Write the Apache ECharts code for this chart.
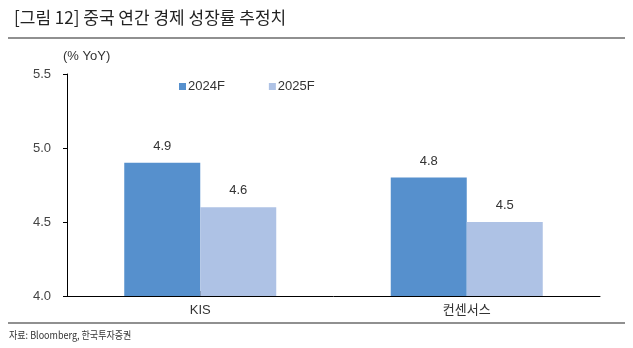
<!DOCTYPE html>
<html><head><meta charset="utf-8">
<script src="https://cdn.jsdelivr.net/npm/echarts@6/dist/echarts.min.js"></script>
<style>html,body{margin:0;padding:0;background:#fff}#c{width:633px;height:348px}</style>
</head><body><div id="c"></div>
<script>
const categories = ['KIS', '컨센서스'];
const s2024 = [4.9, 4.8];
const s2025 = [4.6, 4.5];
const seriesNames = ['2024F', '2025F'];
const yTicks = [4.0, 4.5, 5.0, 5.5];

const font = 'Arial, "Liberation Sans", "Noto Sans CJK KR", sans-serif';
const chart = echarts.init(document.getElementById('c'));
chart.setOption({
  animation: false,
  textStyle: { fontFamily: font },
  graphic: [
    { type: 'text', left: 14, top: 9, style: { text: '[그림 12] 중국 연간 경제 성장률 추정치', font: '17px "Noto Sans CJK KR", sans-serif', fill: '#222' } },
    { type: 'line', shape: { x1: 8, y1: 38, x2: 625, y2: 38 }, style: { stroke: '#222', lineWidth: 1.2 } },
    { type: 'line', shape: { x1: 8, y1: 323, x2: 625, y2: 323 }, style: { stroke: '#222', lineWidth: 1.2 } },
    { type: 'text', x: 9, y: 330, scaleX: 0.86, style: { text: '자료: Bloomberg, 한국투자증권', font: '10.5px "Noto Sans CJK KR", sans-serif', fill: '#333' } },
    { type: 'text', left: 63, top: 50, style: { text: '(% YoY)', font: '13px ' + font, fill: '#333' } }
  ],
  legend: {
    data: seriesNames, left: 174, top: 75, itemWidth: 7, itemHeight: 7, itemGap: 44,
    icon: 'rect', textStyle: { fontSize: 13, color: '#333', padding: [0, 0, 0, -3] }
  },
  grid: { left: 67, right: 33, top: 74, bottom: 52, containLabel: false },
  xAxis: {
    type: 'category', data: categories,
    axisLine: { lineStyle: { color: '#000', width: 1 } },
    axisTick: { show: true, inside: true, alignWithLabel: true, length: 5, lineStyle: { color: '#000' } },
    axisLabel: { fontSize: 13, color: '#333', margin: 8 }
  },
  yAxis: {
    type: 'value', min: 4.0, max: 5.5, interval: 0.5,
    splitLine: { show: false },
    axisLine: { show: true, lineStyle: { color: '#000', width: 1 } },
    axisTick: { show: true, length: 4, lineStyle: { color: '#000' } },
    axisLabel: { fontSize: 13, color: '#444', margin: 16, formatter: v => v.toFixed(1) }
  },
  series: [
    { name: seriesNames[0], type: 'bar', data: s2024, barWidth: 76, barGap: '0%',
      itemStyle: { color: '#5690CD' },
      label: { show: true, position: 'top', distance: 10, fontSize: 13, color: '#333', formatter: p => p.value.toFixed(1) } },
    { name: seriesNames[1], type: 'bar', data: s2025, barWidth: 76, barGap: '0%',
      itemStyle: { color: '#AEC2E5' },
      label: { show: true, position: 'top', distance: 10, fontSize: 13, color: '#333', formatter: p => p.value.toFixed(1) } }
  ]
});
</script></body></html>
